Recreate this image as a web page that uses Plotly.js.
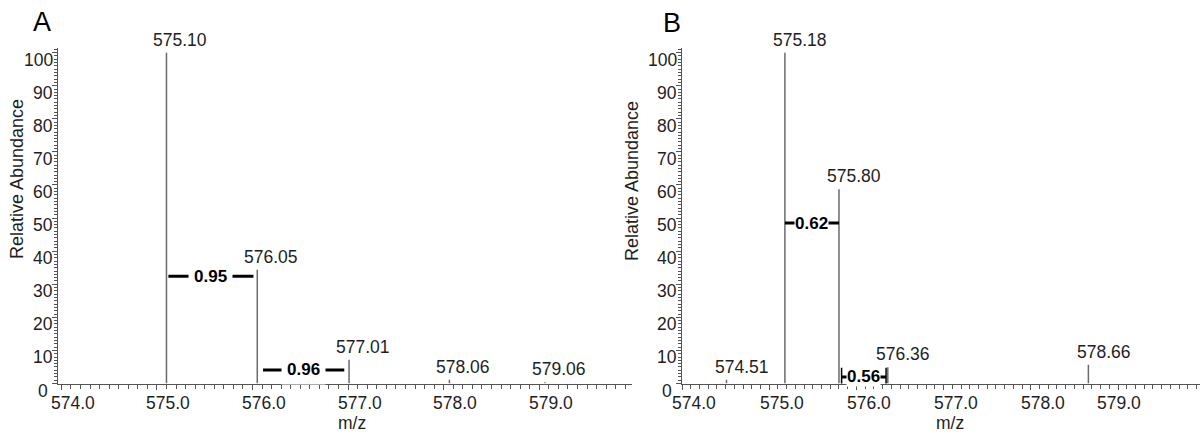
<!DOCTYPE html>
<html>
<head>
<meta charset="utf-8">
<script src="https://cdn.plot.ly/plotly-3.0.1.min.js"></script>
<style>
  html, body { margin: 0; padding: 0; background: #fff; }
  #chart { width: 1200px; height: 432px; }
</style>
</head>
<body>
<div id="chart"></div>
<script>
// Spectrum A: centroid m/z and relative abundance
const mzA = [575.10, 576.05, 577.01, 578.06, 579.06];
const intA = [100, 34.4, 7.2, 1.1, 0.4];

// Spectrum B
const mzB = [574.51, 575.18, 575.80, 576.36, 578.66];
const intB = [1.1, 100, 58.7, 4.9, 5.7];

// Spacing brackets between neighbouring peaks (start, end, level, label)
const gapStartA = [575.12, 576.11];
const gapEndA = [576.01, 576.96];
const gapLevelA = [32.4, 4.1];
const gapTextA = ['0.95', '0.96'];

const gapStartB = [575.18, 575.83];
const gapEndB = [575.80, 576.34];
const gapLevelB = [48.5, 2.0];
const gapTextB = ['0.62', '0.56'];
const gapCapsB = [false, true];

const xTicks = [574, 575, 576, 577, 578, 579];
const xTickText = ['574.0', '575.0', '576.0', '577.0', '578.0', '579.0'];
const yTicks = [0, 10, 20, 30, 40, 50, 60, 70, 80, 90, 100];

const FONT = 'Liberation Sans, Arial, sans-serif';
const TXT = '#1e1e1e';
const AX = '#555';

function stems(mz, inten, xa, ya) {
  const x = [], y = [];
  mz.forEach((m, i) => { x.push(m, m, null); y.push(0, inten[i], null); });
  return { type: 'scatter', mode: 'lines', x, y, xaxis: xa, yaxis: ya,
           line: { color: '#6a6a6a', width: 1.5 }, hoverinfo: 'skip', showlegend: false };
}

function brackets(s, e, lv, caps, xa, ya) {
  const out = [];
  s.forEach((st, i) => {
    out.push({ type: 'scatter', mode: caps && caps[i] ? 'lines+markers' : 'lines',
      x: [st, e[i]], y: [lv[i], lv[i]], xaxis: xa, yaxis: ya,
      line: { color: '#000', width: 3 },
      marker: { symbol: 'line-ns', size: 13, line: { color: '#000', width: 1.5 } },
      hoverinfo: 'skip', showlegend: false });
  });
  return out;
}

const traces = [
  stems(mzA, intA, 'x', 'y'),
  stems(mzB, intB, 'x2', 'y2'),
  ...brackets(gapStartA, gapEndA, gapLevelA, null, 'x', 'y'),
  ...brackets(gapStartB, gapEndB, gapLevelB, gapCapsB, 'x2', 'y2')
];

const annotations = [];
function peakLabels(mz, inten, xr, yr, shift) {
  mz.forEach((m, i) => annotations.push({
    x: m, y: inten[i], xref: xr, yref: yr, text: m.toFixed(2),
    showarrow: false, xanchor: 'center', yanchor: 'bottom', xshift: shift, yshift: 1,
    font: { family: FONT, size: 17.5, color: TXT }
  }));
}
function gapLabels(s, e, lv, txt, xr, yr, pad) {
  s.forEach((st, i) => annotations.push({
    x: (st + e[i]) / 2, y: lv[i], xref: xr, yref: yr, text: '<b>' + txt[i] + '</b>',
    showarrow: false, xanchor: 'center', yanchor: 'middle',
    bgcolor: '#fff', borderpad: pad,
    font: { family: FONT, size: 17, color: '#000' }
  }));
}
// tick labels set slightly off their ticks, as in the instrument export
function xTickLabels(xr, yr, shift, lastShift) {
  xTicks.forEach((v, i) => annotations.push({
    x: v, y: 0, xref: xr, yref: yr, text: xTickText[i], showarrow: false,
    xanchor: 'center', yanchor: 'middle',
    xshift: (i === xTicks.length - 1 && lastShift !== undefined) ? lastShift : shift,
    yshift: -19,
    font: { family: FONT, size: 17.5, color: TXT }
  }));
}
function yTickLabels(xr, yr, x0) {
  yTicks.forEach(v => annotations.push({
    x: x0, y: v, xref: xr, yref: yr, text: String(v), showarrow: false,
    xanchor: 'right', yanchor: 'middle', xshift: v === 0 ? -8 : -3, yshift: -7,
    font: { family: FONT, size: 17.5, color: TXT }
  }));
}
peakLabels(mzA, intA, 'x', 'y', 14);
peakLabels(mzB, intB, 'x2', 'y2', 15.5);
gapLabels(gapStartA, gapEndA, gapLevelA, gapTextA, 'x', 'y', 5);
gapLabels(gapStartB, gapEndB, gapLevelB, gapTextB, 'x2', 'y2', 0);

const rangeA = [573.96, 579.97];
const rangeB = [574.0, 579.94];
xTickLabels('x', 'y', 11.5);
xTickLabels('x2', 'y2', 12.3, 1);
yTickLabels('x', 'y', rangeA[0]);
yTickLabels('x2', 'y2', rangeB[0]);

// panel letters and axis titles
[['A', 42, 22], ['B', 672, 23]].forEach(([t, px, py]) => annotations.push({
  xref: 'paper', yref: 'paper', x: px / 1200, y: 1 - py / 432, text: t, showarrow: false,
  xanchor: 'center', yanchor: 'middle', font: { family: FONT, size: 27, color: '#000' }
}));
[[17, 179], [632, 181]].forEach(([px, py]) => annotations.push({
  xref: 'paper', yref: 'paper', x: px / 1200, y: 1 - py / 432, text: 'Relative Abundance',
  textangle: -90, showarrow: false, xanchor: 'center', yanchor: 'middle',
  font: { family: FONT, size: 18, color: TXT }
}));
[[352, 423], [950, 423]].forEach(([px, py]) => annotations.push({
  xref: 'paper', yref: 'paper', x: px / 1200, y: 1 - py / 432, text: 'm/z',
  showarrow: false, xanchor: 'center', yanchor: 'middle',
  font: { family: FONT, size: 17.5, color: TXT }
}));

function xAxis(domain, range) {
  return {
    domain, range, tickvals: xTicks, showticklabels: false,
    ticks: 'outside', ticklen: 5, tickwidth: 1, tickcolor: AX,
    minor: { dtick: 0.1, tick0: 574, ticks: 'outside', ticklen: 4, tickwidth: 1, tickcolor: AX },
    showline: true, linecolor: AX, linewidth: 1, showgrid: false, zeroline: false,
    fixedrange: true
  };
}
function yAxis(domain, anchor) {
  return {
    domain, range: [0, 101.4], anchor, tickvals: yTicks, showticklabels: false,
    ticks: 'outside', ticklen: 5, tickwidth: 1, tickcolor: AX,
    minor: { dtick: 1, tick0: 0, ticks: 'outside', ticklen: 3, tickwidth: 1, tickcolor: AX },
    showline: true, linecolor: AX, linewidth: 1, showgrid: false, zeroline: false,
    fixedrange: true
  };
}

const yDom = [(432 - 383.5) / 432, (432 - 48) / 432];
const layout = {
  width: 1200, height: 432,
  margin: { l: 0, r: 0, t: 0, b: 0 },
  paper_bgcolor: '#fff', plot_bgcolor: '#fff',
  showlegend: false,
  xaxis: Object.assign(xAxis([57.5 / 1200, 632 / 1200], rangeA), { anchor: 'y' }),
  yaxis: yAxis(yDom, 'x'),
  xaxis2: Object.assign(xAxis([682 / 1200, 1], rangeB), { anchor: 'y2' }),
  yaxis2: yAxis(yDom, 'x2'),
  annotations
};

Plotly.newPlot('chart', traces, layout, { staticPlot: true, displayModeBar: false });
</script>
</body>
</html>
